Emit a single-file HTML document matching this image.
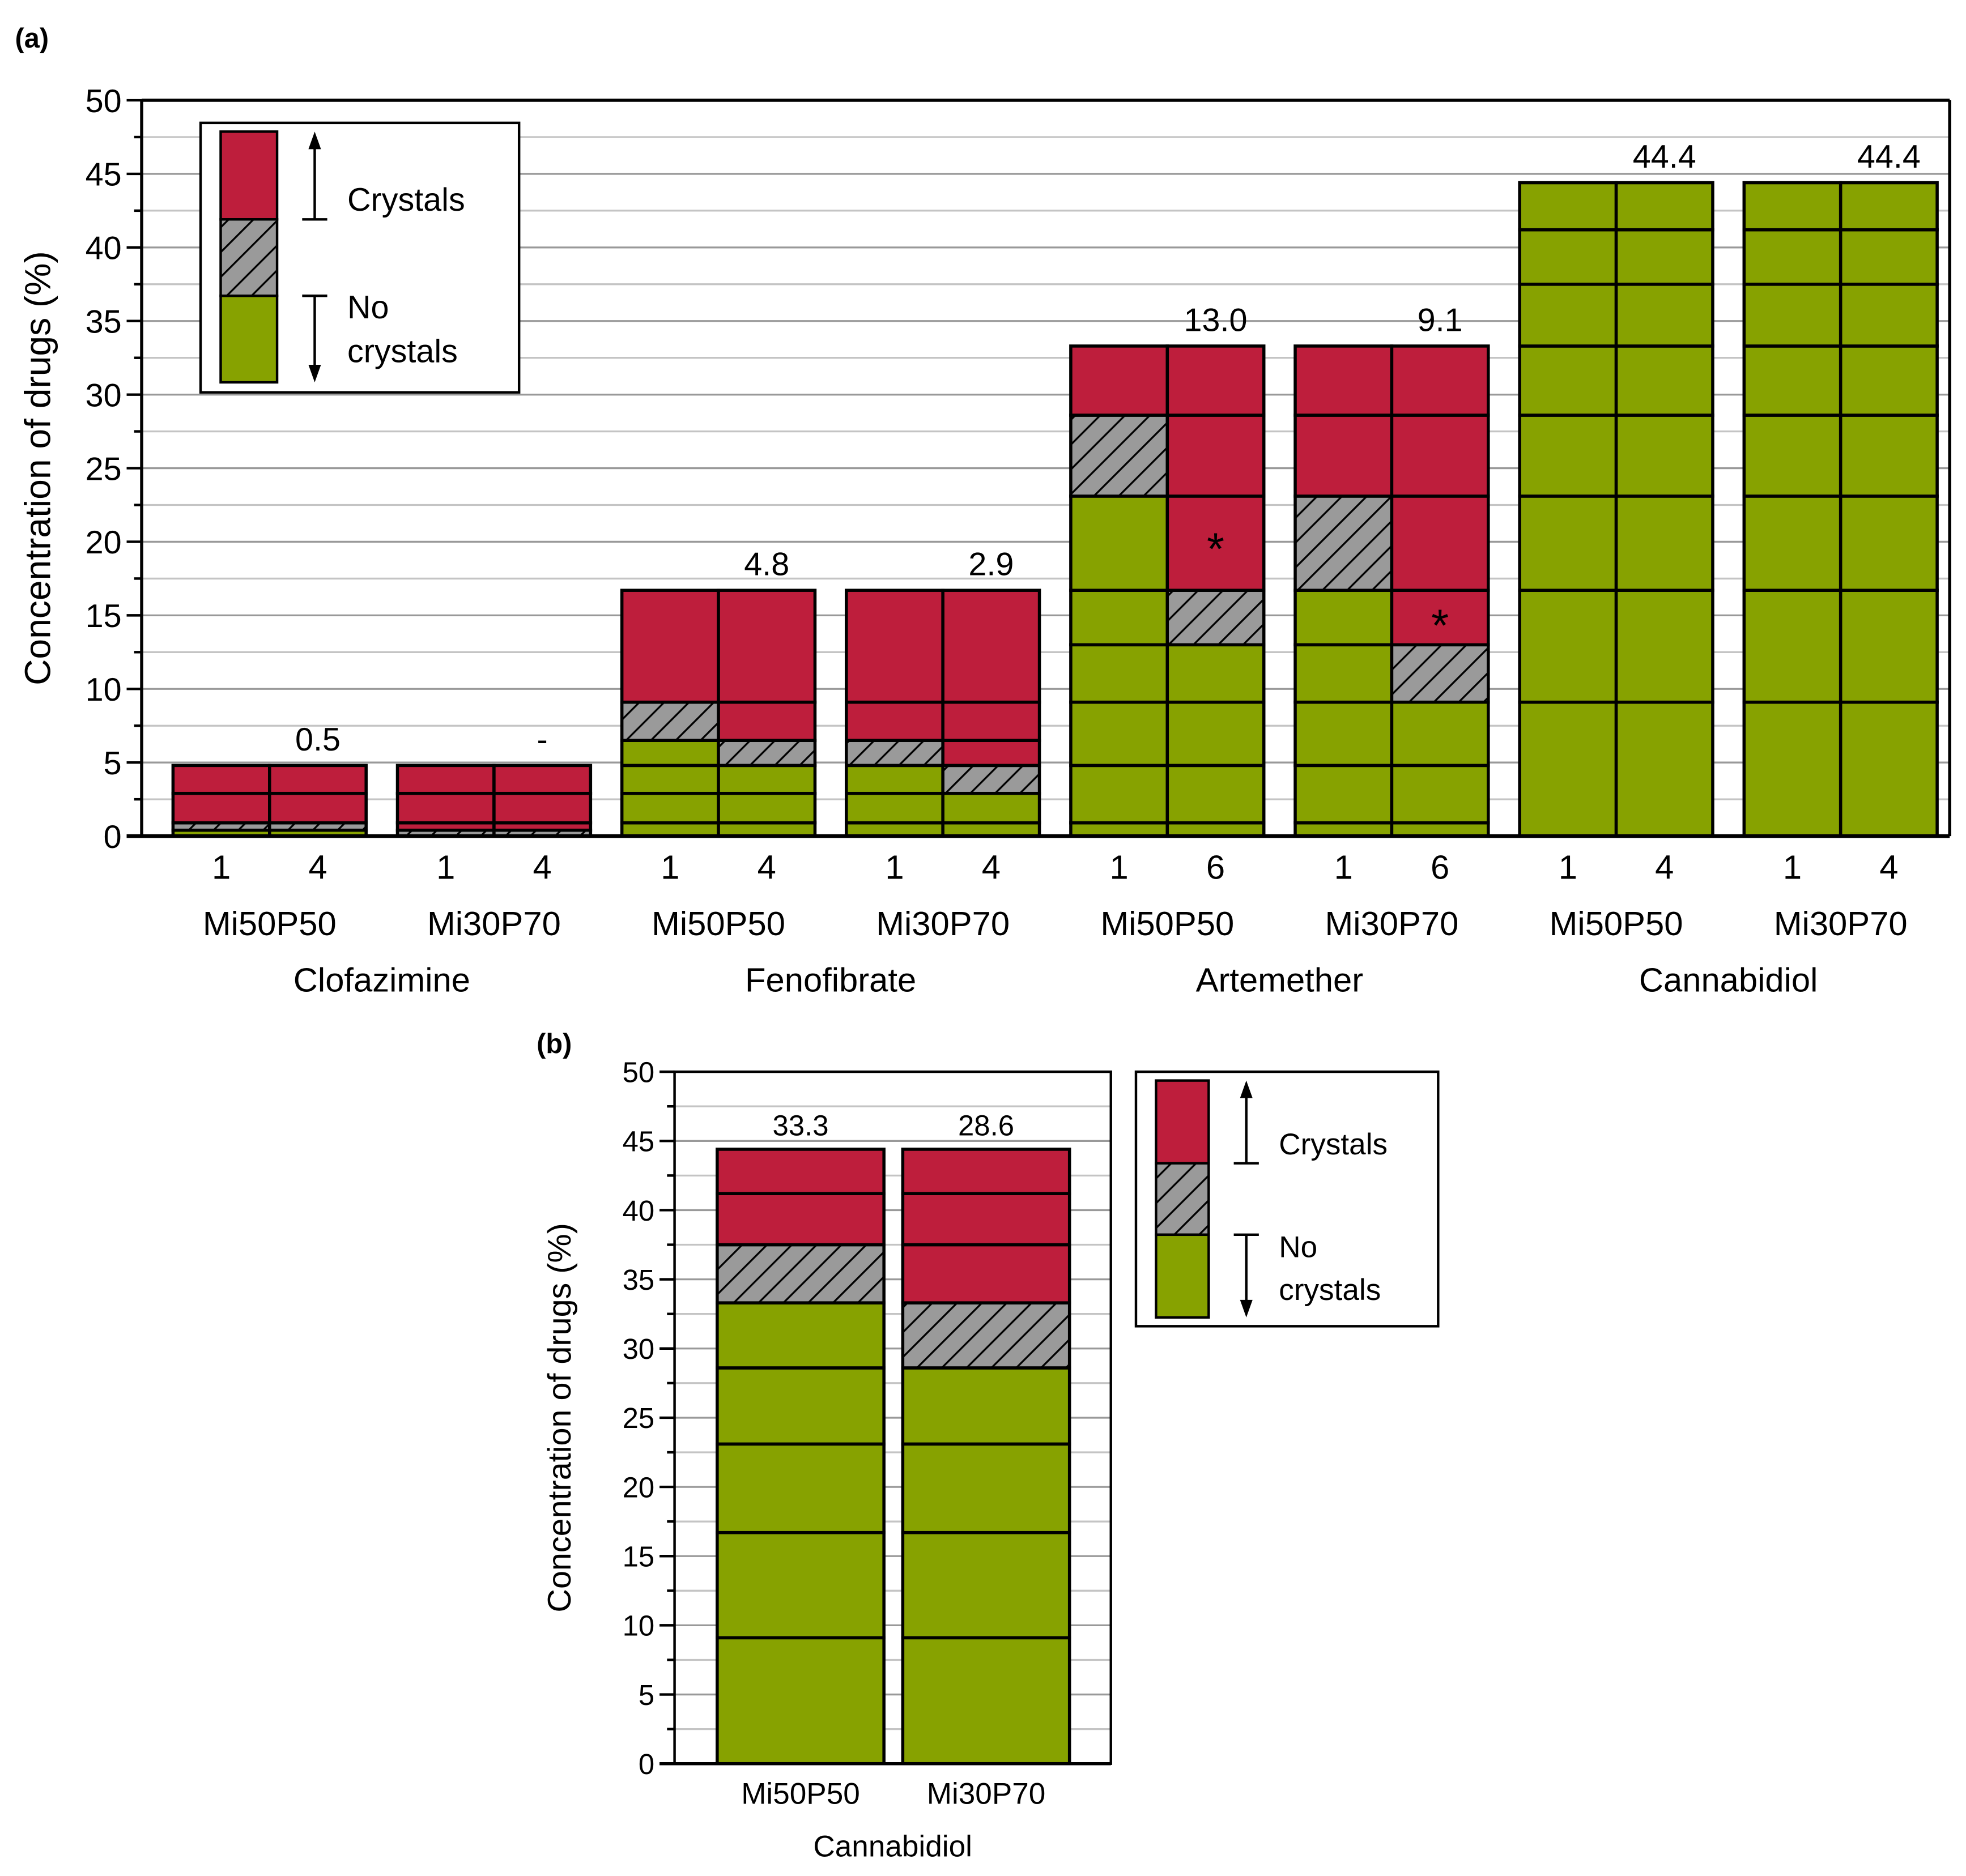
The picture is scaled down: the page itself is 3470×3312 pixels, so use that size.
<!DOCTYPE html>
<html><head><meta charset="utf-8"><style>
html,body{margin:0;padding:0;background:#fff}
svg{display:block}
text{font-family:"Liberation Sans",Arial,sans-serif;fill:#000}
</style></head><body>
<svg id="svg" width="3470" height="3312" viewBox="0 0 1568 1496.6" xmlns="http://www.w3.org/2000/svg">
<defs>
<pattern id="hatch" patternUnits="userSpaceOnUse" width="14" height="14" patternTransform="rotate(45)">
<rect width="14" height="14" fill="#9a9a9a"/><line x1="0" y1="0" x2="0" y2="14" stroke="#000" stroke-width="3"/>
</pattern>
</defs>
<g id="gA"></g>
<g id="gB"></g>
</svg>
<script>
// ---- data ----
const boundsClofazimine = [0.4, 0.9, 2.9, 4.8];
const boundsFenofibrate = [0.9, 2.9, 4.8, 6.5, 9.1, 16.7];
const boundsArtemether = [0.9, 4.8, 9.1, 13.0, 16.7, 23.1, 28.6, 33.3];
const boundsCannabidiol = [9.1, 16.7, 23.1, 28.6, 33.3, 37.5, 41.2, 44.4];
const boundsA = [boundsClofazimine, boundsFenofibrate, boundsArtemether, boundsCannabidiol];
const drugs = ["Clofazimine", "Fenofibrate", "Artemether", "Cannabidiol"];
const configs = ["Mi50P50", "Mi30P70"];
const days = [["1","4"],["1","4"],["1","6"],["1","4"]];
const totals = [4.8, 16.7, 33.3, 44.4];
const greenTop = [[[0.4,0.4],[0,0]],[[6.5,4.8],[4.8,2.9]],[[23.1,13.0],[16.7,9.1]],[[44.4,44.4],[44.4,44.4]]];
const hatchTop = [[[0.9,0.9],[0.4,0.4]],[[9.1,6.5],[6.5,4.8]],[[28.6,16.7],[23.1,13.0]],[[44.4,44.4],[44.4,44.4]]];
const valueLabels = [["0.5","-"],["4.8","2.9"],["13.0","9.1"],["44.4","44.4"]];
const asterisks = [{d:2,c:0,k:1,v:20},{d:2,c:1,k:1,v:14.8}];
const yTicks = [0,5,10,15,20,25,30,35,40,45,50];

const boundsB = [9.1, 16.7, 23.1, 28.6, 33.3, 37.5, 41.2, 44.4];
const greenTopB = [33.3, 28.6];
const hatchTopB = [37.5, 33.3];
const valueLabelsB = ["33.3","28.6"];

const NS="http://www.w3.org/2000/svg";
function el(tag,attrs,parent,txt){const e=document.createElementNS(NS,tag);for(const k in attrs)e.setAttribute(k,attrs[k]);if(txt!==undefined)e.textContent=txt;parent.appendChild(e);return e;}
const RED="#be1e3c", GREEN="#87a200";

function axis(g,x0,x1,yTop,yBot,fs,tfs,title,tx){
  const ys=v=>yBot-(yBot-yTop)*v/50;
  for(let v=2.5;v<50;v+=2.5){
    const major=(v%5===0);
    const l=el('line',{x1:x0,x2:x1,y1:ys(v),y2:ys(v),stroke:major?"#999":"#c4c4c4","stroke-width":1.5},g);
    
    
  }
  for(let v=0;v<=50;v+=2.5){
    const major=(v%5===0);
    el('line',{x1:x0-(major?12:6),x2:x0,y1:ys(v),y2:ys(v),stroke:"#000","stroke-width":2},g);
  }
  yTicks.forEach(v=>{
    const t=el('text',{x:x0-16,y:ys(v)+fs*0.36,"font-size":fs,"text-anchor":"end"},g,String(v));
    
    
  });
  const tt=el('text',{x:tx,y:(yTop+yBot)/2,"font-size":tfs,"text-anchor":"middle",transform:`rotate(-90 ${tx} ${(yTop+yBot)/2})`},g,title);
  
  
  return ys;
}
function seg(g,x,w,ys,a,b,fill,name){
  if(b<=a) return;
  const r=el('rect',{x:x,y:ys(b),width:w,height:ys(a)-ys(b),fill:fill,stroke:"#000","stroke-width":2.5},g);
  
  
}
function bar(g,x,w,ys,total,gt,ht,bounds){
  const pts=[0].concat(bounds.filter(b=>b<=total+0.01));
  for(let i=0;i<pts.length-1;i++){
    const a=pts[i],b=pts[i+1];
    const f=b<=gt+0.01?GREEN:(b<=ht+0.01?"url(#hatch)":RED);
    seg(g,x,w,ys,a,b,f,f===GREEN?'segment-no-crystals':(f===RED?'segment-crystals':'segment-hatched'));
  }
}
function legend(g,x,y,w,h,sx,sw,yr,yh,yg,yb,ax,fs,tc,tn1,tn2){
  const b=el('rect',{x:x,y:y,width:w,height:h,fill:"#fff",stroke:"#000","stroke-width":2},g);
  
  el('rect',{x:sx,y:yr,width:sw,height:yh-yr,fill:RED,stroke:"#000","stroke-width":2},g);
  el('rect',{x:sx,y:yh,width:sw,height:yg-yh,fill:"url(#hatch)",stroke:"#000","stroke-width":2},g);
  el('rect',{x:sx,y:yg,width:sw,height:yb-yg,fill:GREEN,stroke:"#000","stroke-width":2},g);
  el('line',{x1:ax,x2:ax,y1:yh,y2:yr+12,stroke:"#000","stroke-width":2},g);
  el('polygon',{points:`${ax-5},${yr+14} ${ax+5},${yr+14} ${ax},${yr}`,fill:"#000"},g);
  el('line',{x1:ax-10,x2:ax+10,y1:yh,y2:yh,stroke:"#000","stroke-width":2},g);
  el('line',{x1:ax,x2:ax,y1:yg,y2:yb-12,stroke:"#000","stroke-width":2},g);
  el('polygon',{points:`${ax-5},${yb-14} ${ax+5},${yb-14} ${ax},${yb}`,fill:"#000"},g);
  el('line',{x1:ax-10,x2:ax+10,y1:yg,y2:yg,stroke:"#000","stroke-width":2},g);
  const t1=el('text',{x:ax+26,y:tc,"font-size":fs},g,"Crystals");
  
  const t2=el('text',{x:ax+26,y:tn1,"font-size":fs},g,"No");
  
  el('text',{x:ax+26,y:tn2,"font-size":fs},g,"crystals");
}

// ---- chart A ----
const gA=document.getElementById('gA');
const lA=el('text',{x:12,y:38,"font-size":22,"font-weight":"bold"},gA,"(a)");

const ysA=axis(gA,113,1555,80,667,26,29,"Concentration of drugs (%)",40);
const halfW=77, pairStart=138, pitch=179;
drugs.forEach((d,di)=>{
  configs.forEach((c,ci)=>{
    const gi=di*2+ci;
    const x0=pairStart+gi*pitch;
    for(let k=0;k<2;k++){
      bar(gA,x0+k*halfW,halfW,ysA,totals[di],greenTop[di][ci][k],hatchTop[di][ci][k],boundsA[di]);
      const t=el('text',{x:x0+k*halfW+halfW/2,y:701,"font-size":27,"text-anchor":"middle"},gA,days[di][k]);
      
    }
    const v=el('text',{x:x0+halfW*1.5,y:ysA(totals[di])-12,"font-size":26,"text-anchor":"middle"},gA,valueLabels[di][ci]);
    
    const cl=el('text',{x:x0+halfW,y:746,"font-size":27,"text-anchor":"middle"},gA,c);
    
  });
  const dl=el('text',{x:pairStart+di*2*pitch+halfW+pitch/2,y:791,"font-size":27,"text-anchor":"middle"},gA,d);
  
});
asterisks.forEach(a=>{
  const x=pairStart+(a.d*2+a.c)*pitch+a.k*halfW+halfW/2;
  const t=el('text',{x:x,y:ysA(a.v)+18,"font-size":36,"text-anchor":"middle"},gA,"*");
  
});
el('line',{x1:113,x2:113,y1:80,y2:667,stroke:"#000","stroke-width":2.5},gA);
el('line',{x1:1555,x2:1555,y1:80,y2:667,stroke:"#000","stroke-width":2.5},gA);
el('line',{x1:113,x2:1555,y1:80,y2:80,stroke:"#000","stroke-width":2.5},gA);
el('line',{x1:101,x2:1555,y1:667,y2:667,stroke:"#000","stroke-width":3},gA);
legend(gA,160,98,254,215,176,45,105,175,236,305,251,26,168,254,289);

// ---- chart B ----
const gB=document.getElementById('gB');
const lB=el('text',{x:428,y:840,"font-size":22,"font-weight":"bold"},gB,"(b)");

const ysB=axis(gB,538,886,855,1407,23,26,"Concentration of drugs (%)",455);
const bx=[572,720], bw=133;
configs.forEach((c,ci)=>{
  bar(gB,bx[ci],bw,ysB,44.4,greenTopB[ci],hatchTopB[ci],boundsB);
  const v=el('text',{x:bx[ci]+bw/2,y:ysB(44.4)-11,"font-size":23,"text-anchor":"middle"},gB,valueLabelsB[ci]);
  
  const cl=el('text',{x:bx[ci]+bw/2,y:1439,"font-size":24,"text-anchor":"middle"},gB,c);
  
});
const dB=el('text',{x:712,y:1481,"font-size":24,"text-anchor":"middle"},gB,"Cannabidiol");

el('rect',{x:538,y:855,width:348,height:552,fill:"none",stroke:"#000","stroke-width":2},gB);
el('line',{x1:526,x2:886,y1:1407,y2:1407,stroke:"#000","stroke-width":2.5},gB);
legend(gB,906,855,241,203,922,42,862,928,985,1051,994,24,921,1003,1037);
</script>
</body></html>
